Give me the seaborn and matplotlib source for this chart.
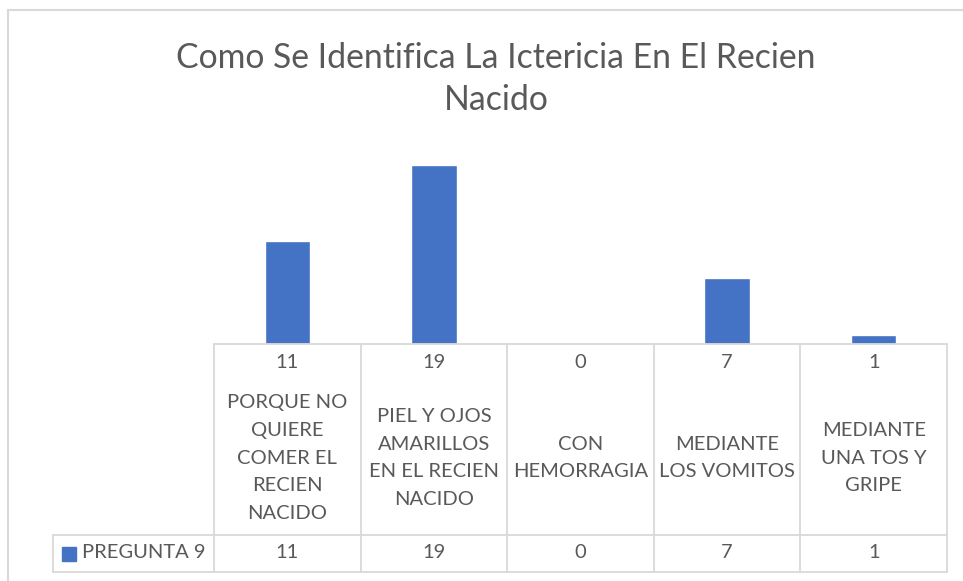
import matplotlib
matplotlib.use('Agg')
import matplotlib.pyplot as plt
from matplotlib.patches import Rectangle
from matplotlib.lines import Line2D
from matplotlib.transforms import blended_transform_factory
import seaborn as sns


TITLE = 'Como Se Identifica La Ictericia En El Recien\nNacido'
SERIES = 'PREGUNTA 9'
CATEGORIES = [
    'PORQUE NO\nQUIERE\nCOMER EL\nRECIEN\nNACIDO',
    'PIEL Y OJOS\nAMARILLOS\nEN EL RECIEN\nNACIDO',
    'CON\nHEMORRAGIA',
    'MEDIANTE\nLOS VOMITOS',
    'MEDIANTE\nUNA TOS Y\nGRIPE',
]
VALUES = [11, 19, 0, 7, 1]

BAR_COLOR = '#4472C4'
TEXT_COLOR = '#595959'
LINE_COLOR = '#D9D9D9'

sns.set_style('white')
plt.rcParams['font.family'] = ['Lato', 'DejaVu Sans']

W, H = 963, 581
fig = plt.figure(figsize=(W / 100, H / 100), dpi=100)

# plot area in pixels: x 214..947, y 156..344
ax = fig.add_axes([214 / W, (H - 344) / H, 733 / W, 188 / H])
sns.barplot(x=list(range(len(VALUES))), y=VALUES, color=BAR_COLOR,
            width=0.31, saturation=1, ax=ax)
ax.set_xlim(-0.5, len(VALUES) - 0.5)
ax.set_ylim(0, 20)
ax.set_xticks([])
ax.set_yticks([])
ax.set_xlabel('')
ax.set_ylabel('')
sns.despine(ax=ax, left=True, bottom=True)

# ── data table under the plot ──────────────────────────
def ay(ypix):
    return (344 - ypix) / 188

def ax_x(xpix):
    return (xpix - 214) / 733

n = len(VALUES)
tr = blended_transform_factory(ax.transData, ax.transAxes)
line_kw = dict(color=LINE_COLOR, lw=1.3, clip_on=False, transform=ax.transAxes)

ax.add_line(Line2D([0, 1], [0, 0], **line_kw))
ax.add_line(Line2D([ax_x(53), 1], [ay(535), ay(535)], **line_kw))
ax.add_line(Line2D([ax_x(53), 1], [ay(572), ay(572)], **line_kw))
ax.add_line(Line2D([ax_x(53), ax_x(53)], [ay(535), ay(572)], **line_kw))
for k in range(n + 1):
    ax.add_line(Line2D([k / n, k / n], [0, ay(572)], **line_kw))

FS = 14.5
for i, (cat, val) in enumerate(zip(CATEGORIES, VALUES)):
    ax.text(i, ay(362), str(val), transform=tr, ha='center', va='center',
            fontsize=FS, color=TEXT_COLOR)
    ax.text(i, ay(458), cat, transform=tr, ha='center', va='center',
            fontsize=FS, color=TEXT_COLOR, linespacing=1.76)
    ax.text(i, ay(553), str(val), transform=tr, ha='center', va='center',
            fontsize=FS, color=TEXT_COLOR)

ax.add_patch(Rectangle((ax_x(62), ay(561)), ax_x(76) - ax_x(62),
                       ay(547) - ay(561), transform=ax.transAxes,
                       color=BAR_COLOR, clip_on=False))
ax.text(ax_x(82), ay(553), SERIES, transform=ax.transAxes, ha='left',
        va='center', fontsize=FS, color=TEXT_COLOR)

# ── title and chart border ─────────────────────────────
fig.text(496 / W, 1 - 79 / H, TITLE, ha='center', va='center',
         fontsize=24.3, color=TEXT_COLOR, linespacing=1.40)

fig.add_artist(Line2D([8 / W, 8 / W], [0, 1 - 10 / H], color=LINE_COLOR,
                      lw=1.5, transform=fig.transFigure))
fig.add_artist(Line2D([8 / W, 1], [1 - 10 / H, 1 - 10 / H], color=LINE_COLOR,
                      lw=1.5, transform=fig.transFigure))

fig.savefig('out.png', dpi=100, facecolor='white')
